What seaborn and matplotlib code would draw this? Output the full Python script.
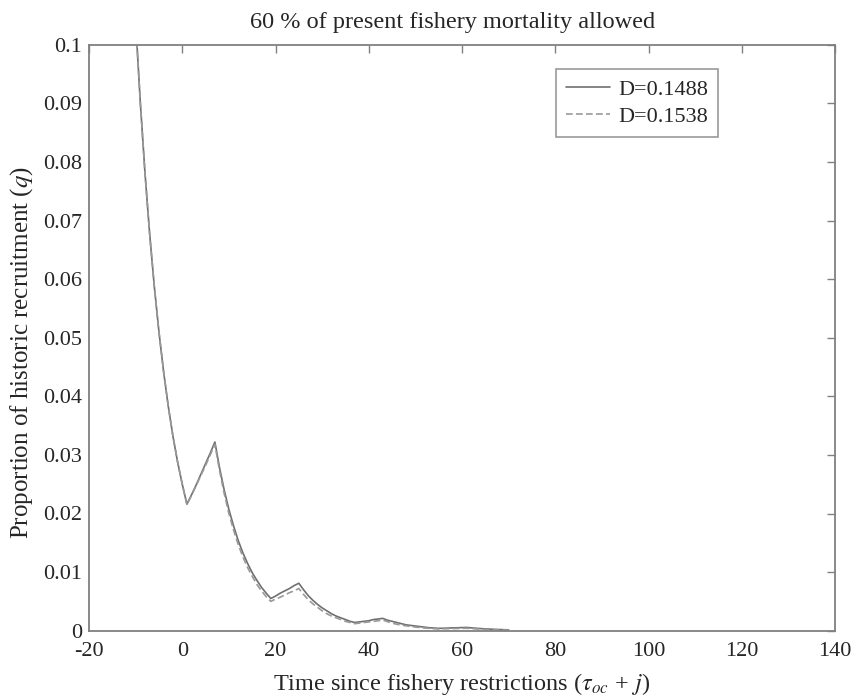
import numpy as np
import pandas as pd
import matplotlib
matplotlib.use("Agg")
import matplotlib.pyplot as plt
from matplotlib.ticker import FuncFormatter
import seaborn as sns

# --- Data (yearly values, t = -10 .. 70) ---
years = list(range(-10, 71))

q_d1488 = [
    0.1040, 0.0902, 0.0782, 0.0678, 0.0588, 0.0510, 0.0442, 0.0383, 0.0332, 0.0288, 0.0250,  # -10..0
    0.0216, 0.0232, 0.0249, 0.0267, 0.0285, 0.0303, 0.0322,  # 1..7
    0.0278, 0.0240, 0.0207, 0.0179, 0.0154, 0.0133, 0.0115, 0.0099, 0.0086, 0.0074, 0.0064, 0.0055,  # 8..19
    0.0059, 0.0064, 0.0068, 0.0072, 0.0077, 0.0081,  # 20..25
    0.0070, 0.0060, 0.0052, 0.0045, 0.0039, 0.0034, 0.0029, 0.0025, 0.0022, 0.0019, 0.0016, 0.0014,  # 26..37
    0.0015, 0.0016, 0.0017, 0.0019, 0.0020, 0.0021,  # 38..43
    0.0018, 0.0016, 0.0014, 0.0012, 0.0010, 0.0009, 0.0008, 0.0007, 0.0006, 0.0005, 0.00045, 0.0004,  # 44..55
    0.00042, 0.00045, 0.00048, 0.0005, 0.00053, 0.00056,  # 56..61
    0.00048, 0.00042, 0.00036, 0.00031, 0.00027, 0.00023, 0.0002, 0.00017, 0.00015,  # 62..70
]

q_d1538 = [
    0.1040, 0.0902, 0.0782, 0.0678, 0.0588, 0.0510, 0.0442, 0.0383, 0.0332, 0.0288, 0.0250,
    0.0215, 0.0231, 0.0248, 0.0265, 0.0282, 0.0300, 0.0318,
    0.0273, 0.0234, 0.0200, 0.0172, 0.0147, 0.0126, 0.0108, 0.0093, 0.0079, 0.0068, 0.0058, 0.0050,
    0.0054, 0.0057, 0.0061, 0.0065, 0.0068, 0.0072,
    0.0062, 0.0053, 0.0046, 0.0040, 0.0034, 0.0029, 0.0025, 0.0022, 0.0019, 0.0016, 0.0014, 0.0012,
    0.0013, 0.0014, 0.0015, 0.0016, 0.0017, 0.0018,
    0.00155, 0.0013, 0.0011, 0.00097, 0.00083, 0.00072, 0.00062, 0.00053, 0.00046, 0.0004, 0.00034, 0.0003,
    0.00032, 0.00034, 0.00036, 0.00038, 0.0004, 0.00042,
    0.00036, 0.00031, 0.00027, 0.00023, 0.0002, 0.00017, 0.00015, 0.00013, 0.00011,
]

series_labels = ["D=0.1488", "D=0.1538"]

df = pd.concat([
    pd.DataFrame({"t": years, "q": q_d1488, "D": series_labels[0]}),
    pd.DataFrame({"t": years, "q": q_d1538, "D": series_labels[1]}),
])

sns.set_style("white")
plt.rcParams["font.family"] = ["Liberation Serif", "DejaVu Serif"]
plt.rcParams["mathtext.fontset"] = "stix"

fig = plt.figure(figsize=(8.51, 6.96), dpi=100)
ax = fig.add_axes([89 / 851, 1 - 630.7 / 696, 746 / 851, 586 / 696])

sns.lineplot(data=df, x="t", y="q", hue="D", style="D",
             palette=["#707070", "#999999"], dashes=[(None, None), (4, 2)],
             linewidth=1.2, ax=ax)

ax.set_xlim(-20, 140)
ax.set_ylim(0, 0.1)
ax.set_xticks(np.arange(-20, 141, 20))
ax.set_yticks(np.arange(0, 0.1001, 0.01))
# MATLAB-style labels: plain hyphen for negatives, no trailing zeros
ax.xaxis.set_major_formatter(FuncFormatter(lambda v, p: f"{int(round(v))}"))
ax.yaxis.set_major_formatter(FuncFormatter(lambda v, p: f"{v:.2f}".rstrip("0").rstrip(".") if v else "0"))
ax.tick_params(direction="in", top=True, right=True, length=6, width=1,
               color="#808080", labelsize=16)
ax.tick_params(axis="x", pad=8)
ax.tick_params(axis="y", pad=5)
for s in ax.spines.values():
    s.set_color("#808080")
    s.set_linewidth(1.3)

ax.set_title("60 % of present fishery mortality allowed", fontsize=17.5, pad=12, x=0.487)
ax.set_xlabel(r"Time since fishery restrictions ($\tau_{oc}$ + $j$)", fontsize=17.5, labelpad=7)
ax.set_ylabel(r"Proportion of historic recruitment ($q$)", fontsize=18, labelpad=6, y=0.475)

leg = ax.legend(loc="upper right", bbox_to_anchor=(0.843, 0.958), borderaxespad=0, fontsize=16,
                frameon=True, fancybox=False, edgecolor="#808080",
                handlelength=2.0, borderpad=0.45, labelspacing=0.3, handletextpad=0.35)
leg.get_frame().set_linewidth(1.2)

fig.savefig("out.png", dpi=100)
